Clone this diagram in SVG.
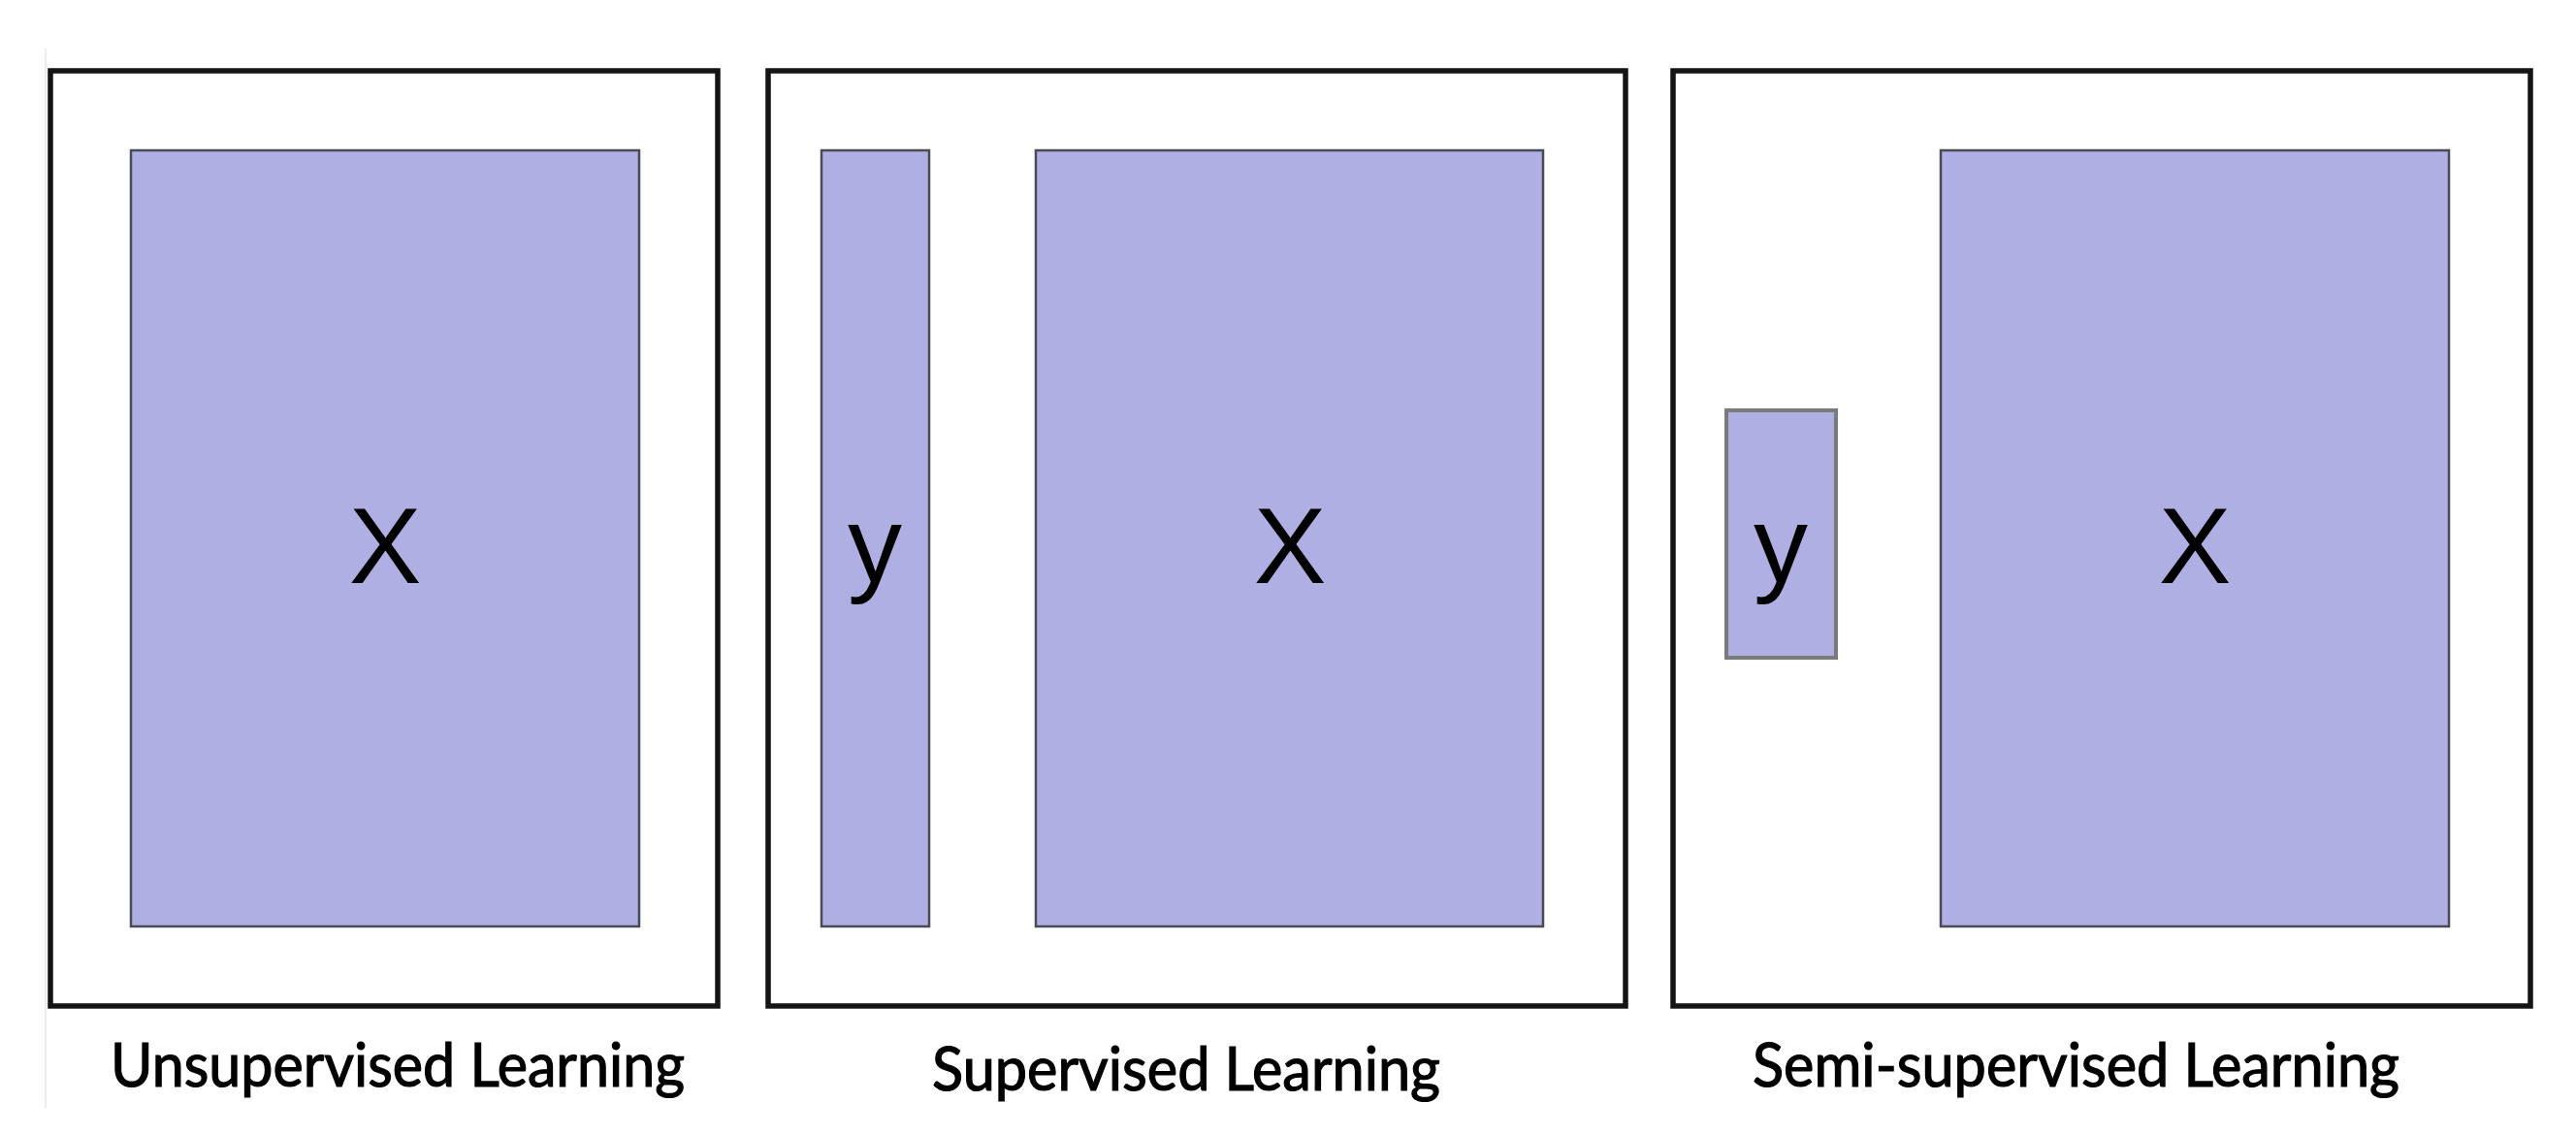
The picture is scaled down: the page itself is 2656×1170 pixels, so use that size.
<svg xmlns="http://www.w3.org/2000/svg" width="2656" height="1170" viewBox="0 0 2656 1170">
<style>
.frame{fill:#ffffff;stroke:#141414;stroke-width:5.5}
.data{fill:#afafe4;stroke:#4a4a55;stroke-width:2.5}
.small{fill:#afafe4;stroke:#7a7a7a;stroke-width:4}
.sym{font-family:"Liberation Sans",Arial,sans-serif;font-size:112px;fill:#000;text-anchor:middle}
.cap{font-family:Lato,"Open Sans",sans-serif;font-size:61px;fill:#000;stroke:#000;stroke-width:1.2}
</style>
<rect width="2656" height="1170" fill="#ffffff"/>
<line x1="47" y1="50" x2="47" y2="1142" stroke="#e6e6e6" stroke-width="1.5"/>
<g id="unsupervised">
<rect class="frame" x="52" y="73" width="688" height="964"/>
<rect class="data" x="135" y="155" width="524" height="800"/>
<text class="sym" x="397" y="601">X</text>
<text class="cap" x="114" y="1120" textLength="592" lengthAdjust="spacingAndGlyphs">Unsupervised Learning</text>
</g>
<g id="supervised">
<rect class="frame" x="792" y="73" width="884" height="964"/>
<rect class="data" x="847" y="155" width="111" height="800"/>
<text class="sym" x="902" y="600">y</text>
<rect class="data" x="1068" y="155" width="523" height="800"/>
<text class="sym" x="1330" y="601">X</text>
<text class="cap" x="961" y="1124" textLength="524" lengthAdjust="spacingAndGlyphs">Supervised Learning</text>
</g>
<g id="semi-supervised">
<rect class="frame" x="1725" y="73" width="884" height="964"/>
<rect class="small" x="1780" y="423" width="113" height="255"/>
<text class="sym" x="1836" y="600">y</text>
<rect class="data" x="2001" y="155" width="524" height="800"/>
<text class="sym" x="2263" y="601">X</text>
<text class="cap" x="1807" y="1120" textLength="667" lengthAdjust="spacingAndGlyphs">Semi-supervised Learning</text>
</g>
<g id="connectors"></g>
</svg>
